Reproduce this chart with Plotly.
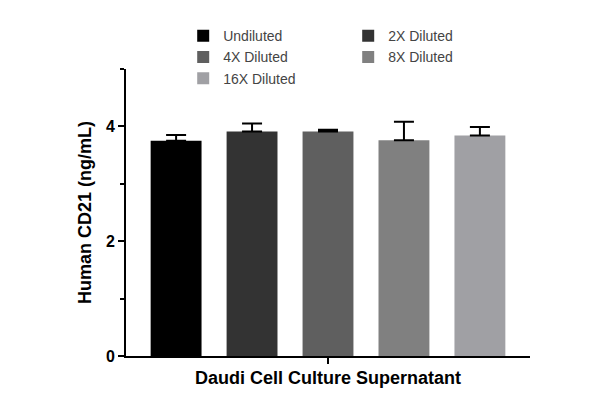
import plotly.graph_objects as go

# Data
samples = ["Undiluted", "2X Diluted", "4X Diluted", "8X Diluted", "16X Diluted"]
means = [3.75, 3.91, 3.91, 3.76, 3.84]
errors_up = [0.10, 0.14, 0.03, 0.32, 0.15]
colors = ["#000000", "#333333", "#5f5f5f", "#808080", "#a0a0a4"]
category = ["Daudi Cell Culture Supernatant"]

fig = go.Figure()
for name, m, e, c in zip(samples, means, errors_up, colors):
    fig.add_trace(go.Bar(
        x=category, y=[m], name=name, marker=dict(color=c, line=dict(width=0)),
        error_y=dict(type="data", array=[e], arrayminus=[0], symmetric=False,
                     color="black", thickness=2, width=10),
    ))

fig.update_layout(
    width=600, height=405,
    margin=dict(l=118, r=78, t=61, b=57, autoexpand=False),
    plot_bgcolor="white", paper_bgcolor="white",
    barmode="group", bargap=0.06, bargroupgap=0.33,
    font=dict(family="Liberation Sans", color="black"),
    showlegend=True,
    legend=dict(orientation="h", x=0.55, xanchor="center", yref="container", y=0.97, yanchor="top",
                font=dict(size=14, color="#444444"), entrywidth=120,
                traceorder="normal", tracegroupgap=0),
)
fig.update_xaxes(
    showline=True, linecolor="black", linewidth=2, ticks="outside",
    tickwidth=2, ticklen=6, tickcolor="black", showticklabels=False,
    title=dict(text="<b>Daudi Cell Culture Supernatant</b>", font=dict(size=18), standoff=8),
)
fig.update_yaxes(
    range=[0, 5], tickvals=[0, 2, 4], ticktext=["<b>0</b>", "<b>2</b>", "<b>4</b>"],
    showline=True, linecolor="black", linewidth=2, ticks="outside",
    tickwidth=2, ticklen=6, tickcolor="black", showgrid=False, zeroline=False,
    tickfont=dict(size=16), minor=dict(tickvals=[1, 3, 5], ticks="outside", ticklen=4, tickwidth=2, tickcolor="black"),
    title=dict(text="<b>Human CD21 (ng/mL)</b>", font=dict(size=18), standoff=10),
)

fig.write_html("out.html")
